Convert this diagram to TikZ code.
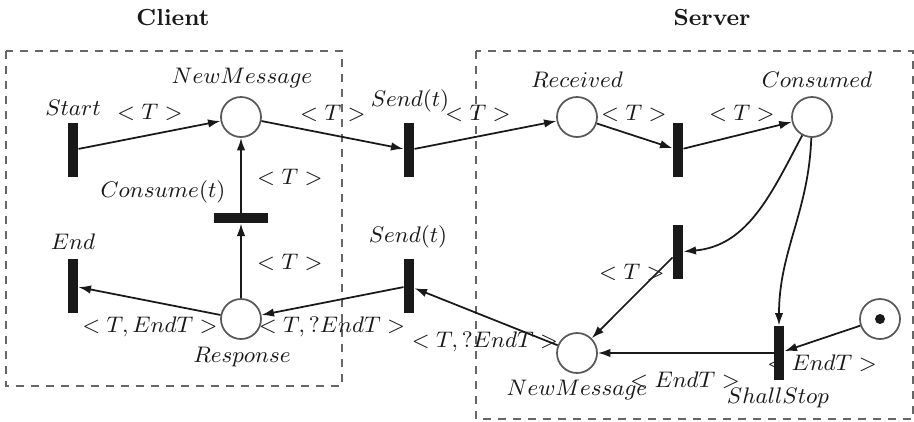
\documentclass[tikz,border=0pt]{standalone}
\usetikzlibrary{arrows.meta}
\begin{document}
\begin{tikzpicture}[x=0.4pt,y=-0.4pt,
  place/.style={circle,draw=black!65,line width=0.7pt,minimum size=16pt,inner sep=0pt},
  vbar/.style={rectangle,fill=black!90,minimum width=4pt,minimum height=21.6pt,inner sep=0pt},
  hbar/.style={rectangle,fill=black!90,minimum width=21.6pt,minimum height=4pt,inner sep=0pt},
  arc/.style={-{Latex[length=5pt,width=3.4pt]},line width=0.7pt,black!90},
  lbl/.style={inner sep=0pt,text=black!90,font=\fontsize{9.3}{11}\selectfont},
  frame/.style={draw=black!60,dashed,line width=0.5pt},
  title/.style={font=\fontsize{9.3}{11}\selectfont\bfseries,text=black!90}
]
\useasboundingbox (0,0) rectangle (914,421);

% component frames
\draw[frame] (6,51) rectangle (342,386);
\draw[frame] (476,51) rectangle (913,419);
\node[title] (clienttitle) at (173,18) {Client};
\node[title] (servertitle) at (712,18) {Server};

% labels
\node[lbl] (lstart) at (73,108) {$Start$};
\node[lbl] (lnm1) at (242,78) {$NewMessage$};
\node[lbl] (lsend1) at (410,101) {$Send(t)$};
\node[lbl] (lrecv) at (577,80) {$Received$};
\node[lbl] (lcons) at (817,80) {$Consumed$};
\node[lbl] (lconsume) at (163,192) {$Consume(t)$};
\node[lbl] (lend) at (73,242) {$End$};
\node[lbl] (lsend2) at (408,237) {$Send(t)$};
\node[lbl] (lresp) at (242,357) {$Response$};
\node[lbl] (lnm2) at (577,390) {$NewMessage$};
\node[lbl] (lss) at (778,398) {$ShallStop$};

\node[lbl] (w1) at (150,112) {$<T>$};
\node[lbl] (w2) at (333,113) {$<T>$};
\node[lbl] (w3) at (478,113) {$<T>$};
\node[lbl] (w4) at (634,113) {$<T>$};
\node[lbl] (w5) at (742,113) {$<T>$};
\node[lbl] (w6) at (290,177) {$<T>$};
\node[lbl] (w7) at (290,262) {$<T>$};
\node[lbl] (w8) at (150,327) {$<T,EndT>$};
\node[lbl] (w9) at (332,327) {$<T,?EndT>$};
\node[lbl] (w10) at (485,342) {$<T,?EndT>$};
\node[lbl] (w11) at (632,272) {$<T>$};
\node[lbl] (w12) at (685,380) {$<EndT>$};
\node[lbl] (w13) at (822,363) {$<EndT>$};

% places
\node[place] (nm1) at (241,117) {};
\node[place] (resp) at (241,319) {};
\node[place] (recv) at (577,117) {};
\node[place] (cons) at (812,117) {};
\node[place] (nm2) at (577,353) {};
\node[place] (tok) at (880,319) {};
\fill[black!90] (tok.center) circle (2pt);

% transitions
\node[vbar] (start) at (73,150) {};
\node[vbar] (send1) at (409,150) {};
\node[hbar] (cons1) at (241,218) {};
\node[vbar] (end) at (73,286) {};
\node[vbar] (send2) at (409,286) {};
\node[vbar] (t1) at (678,150) {};
\node[vbar] (t2) at (678,252) {};
\node[vbar] (ss) at (779,353) {};

% arcs
\draw[arc] (start) -- (nm1);
\draw[arc] (nm1) -- (send1);
\draw[arc] (send1) -- (recv);
\draw[arc] (recv) -- (t1);
\draw[arc] (t1) -- (cons);
\draw[arc] (cons) to[out=-118,in=5] (t2);
\draw[arc] (cons) to[out=-92,in=90] (ss);
\draw[arc] (t2) -- (nm2);
\draw[arc] (tok) -- (ss);
\draw[arc] (ss) -- (nm2);
\draw[arc] (nm2) -- (send2);
\draw[arc] (send2) -- (resp);
\draw[arc] (resp) -- (end);
\draw[arc] (resp) -- (cons1);
\draw[arc] (cons1) -- (nm1);
\end{tikzpicture}
\end{document}
